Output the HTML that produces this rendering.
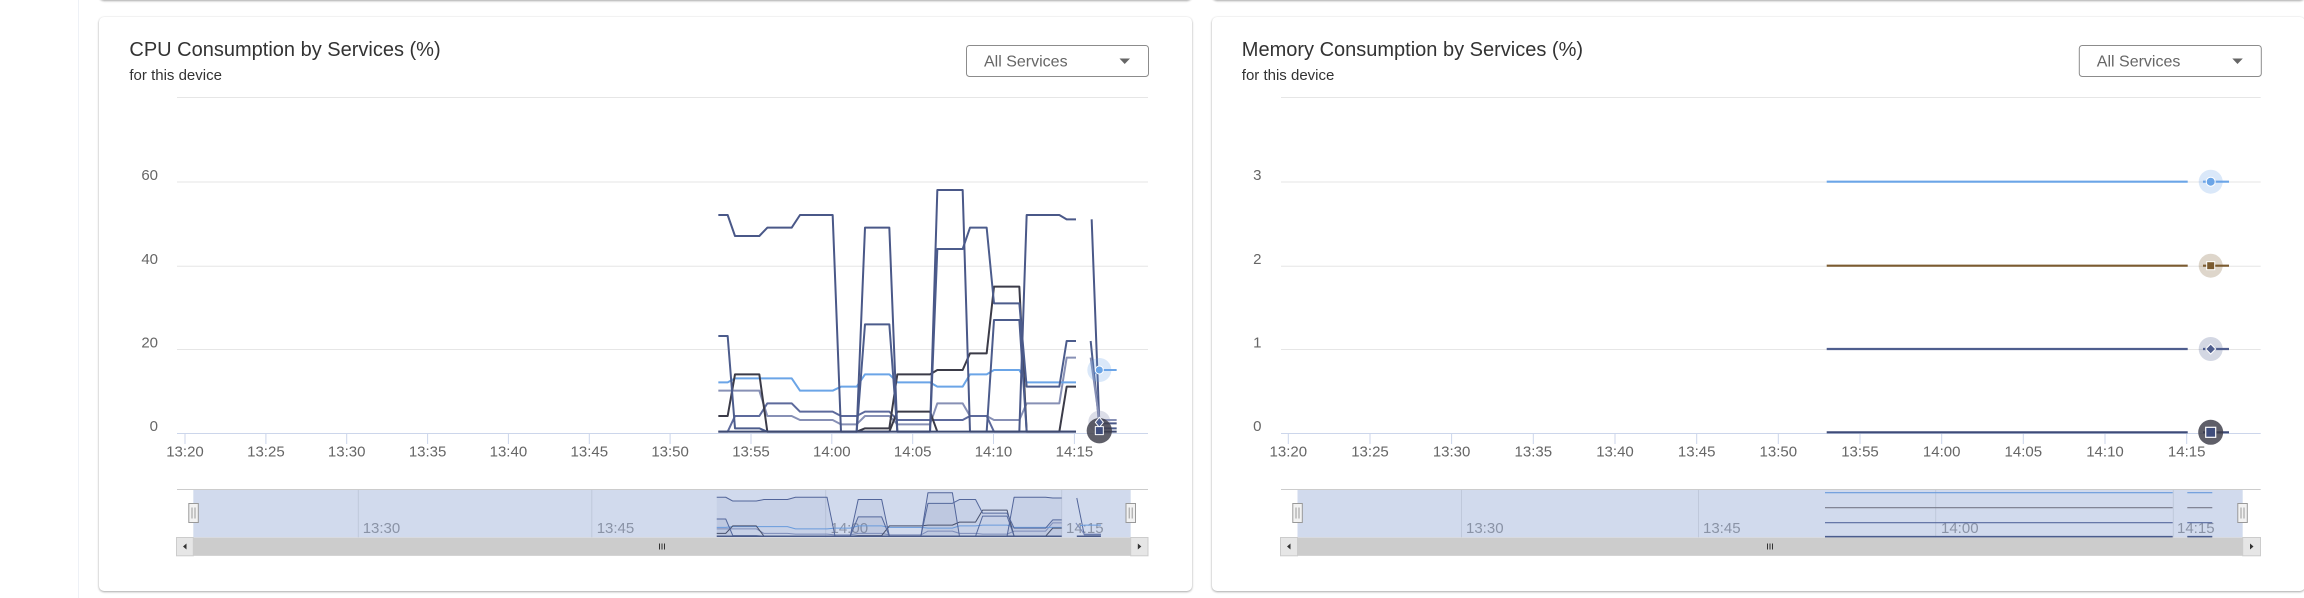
<!DOCTYPE html>
<html><head><meta charset="utf-8">
<style>
html,body{margin:0;padding:0;background:#fff;width:2304px;height:598px;overflow:hidden;font-family:"Liberation Sans",sans-serif;}
body{position:relative;}
.vline{position:absolute;left:78px;top:0;width:1px;height:598px;background:#eef1f6;}
.card{position:absolute;background:#fff;border-radius:5px;box-shadow:0 1px 2px rgba(0,0,0,0.32),0 0 2px rgba(0,0,0,0.07);}
svg{position:absolute;left:0;top:0;}
</style></head><body>
<div class="vline"></div>
<div class="card" style="left:99px;top:-60px;width:1093px;height:60px"></div>
<div class="card" style="left:1211.5px;top:-60px;width:1093px;height:60px"></div>
<div class="card" style="left:99px;top:17px;width:1093px;height:574px"></div>
<div class="card" style="left:1211.5px;top:17px;width:1093px;height:574px"></div>

<svg width="2304" height="598" viewBox="0 0 2304 598" xmlns="http://www.w3.org/2000/svg" font-family="Liberation Sans, sans-serif">

<!-- ================= LEFT CHART ================= -->
<text x="129.4" y="56" font-size="20" fill="#333">CPU Consumption by Services (%)</text>
<text x="129.4" y="80" font-size="15" fill="#333">for this device</text>
<rect x="966.5" y="45.5" width="182" height="31" rx="3" fill="#fff" stroke="#8c8c8c"/>
<text x="984" y="66.5" font-size="16" fill="#666">All Services</text>
<polygon points="1119.5,58.5 1130,58.5 1124.7,64" fill="#666"/>

<g stroke="#e6e6e6" stroke-width="1">
<line x1="177" y1="97.5" x2="1148" y2="97.5"/>
<line x1="177" y1="182" x2="1148" y2="182"/>
<line x1="177" y1="266.3" x2="1148" y2="266.3"/>
<line x1="177" y1="349.5" x2="1148" y2="349.5"/>
</g>
<line x1="177" y1="433.5" x2="1148" y2="433.5" stroke="#ccd6eb"/>
<g stroke="#ccd6eb">
<line x1="185" y1="433.5" x2="185" y2="444"/>
<line x1="265.9" y1="433.5" x2="265.9" y2="444"/>
<line x1="346.7" y1="433.5" x2="346.7" y2="444"/>
<line x1="427.6" y1="433.5" x2="427.6" y2="444"/>
<line x1="508.4" y1="433.5" x2="508.4" y2="444"/>
<line x1="589.3" y1="433.5" x2="589.3" y2="444"/>
<line x1="670.1" y1="433.5" x2="670.1" y2="444"/>
<line x1="751" y1="433.5" x2="751" y2="444"/>
<line x1="831.8" y1="433.5" x2="831.8" y2="444"/>
<line x1="912.7" y1="433.5" x2="912.7" y2="444"/>
<line x1="993.5" y1="433.5" x2="993.5" y2="444"/>
<line x1="1074.4" y1="433.5" x2="1074.4" y2="444"/>
</g>
<g font-size="15" fill="#666" text-anchor="middle">
<text x="185" y="456.5">13:20</text>
<text x="265.9" y="456.5">13:25</text>
<text x="346.7" y="456.5">13:30</text>
<text x="427.6" y="456.5">13:35</text>
<text x="508.4" y="456.5">13:40</text>
<text x="589.3" y="456.5">13:45</text>
<text x="670.1" y="456.5">13:50</text>
<text x="751" y="456.5">13:55</text>
<text x="831.8" y="456.5">14:00</text>
<text x="912.7" y="456.5">14:05</text>
<text x="993.5" y="456.5">14:10</text>
<text x="1074.4" y="456.5">14:15</text>
</g>
<g font-size="15" fill="#666" text-anchor="end">
<text x="158" y="180">60</text>
<text x="158" y="264">40</text>
<text x="158" y="347.5">20</text>
<text x="158" y="431">0</text>
</g>

<!-- main series -->
<g transform="matrix(0.33333,0,0,0.33333,680,160)" fill="none" stroke-linejoin="round">
<polyline vector-effect="non-scaling-stroke" stroke-width="2" stroke="#8790b5" points="115,692 238,692 262,768 335,768 360,780 458,780 483,793 530,793 555,768 628,768 652,793 750,793 772,730 848,730 870,768 920,768 942,780 1018,780 1040,730 1138,730 1160,593 1188,593"/>
<polyline vector-effect="non-scaling-stroke" stroke-width="2" stroke="#5d6a9c" points="115,815 143,815 165,768 238,768 262,730 335,730 360,755 458,755 483,768 530,768 555,755 628,755 652,780 750,780 772,780 848,780 870,768 920,768 942,815 1188,815"/>
<polyline vector-effect="non-scaling-stroke" stroke-width="2" stroke="#3b3b48" points="530,815 628,815 652,755 750,755 772,815"/>
<polyline vector-effect="non-scaling-stroke" stroke-width="2" stroke="#6ba5e7" points="115,667 143,667 165,655 335,655 360,692 458,692 483,680 530,680 555,643 628,643 652,667 750,667 772,680 848,680 870,643 920,643 942,630 1018,630 1040,667 1188,667"/>
<polyline vector-effect="non-scaling-stroke" stroke-width="2" stroke="#3b3b48" points="115,768 143,768 165,643 238,643 262,815 530,815 555,805 628,805 652,643 750,643 772,630 848,630 870,580 920,580 942,380 1018,380 1040,815 1138,815 1160,680 1188,680"/>
<polyline vector-effect="non-scaling-stroke" stroke-width="2" stroke="#4c5c8c" points="920,815 942,480 1018,480 1040,815"/>
<polyline vector-effect="non-scaling-stroke" stroke-width="2" stroke="#4c5c8c" points="115,528 143,528 165,805 238,805 262,815 530,815 555,493 628,493 652,815 750,815 772,267 848,267 870,203 920,203 942,430 1018,430 1040,680 1138,680 1160,543 1188,543"/>
<polyline vector-effect="non-scaling-stroke" stroke-width="2" stroke="#4a5888" points="115,165 143,165 165,228 238,228 262,203 335,203 360,165 458,165 483,815 530,815 555,203 628,203 652,815 750,815 772,90 848,90 870,815 1018,815 1040,165 1138,165 1160,178 1188,178"/>
<polyline vector-effect="non-scaling-stroke" stroke-width="2" stroke="#3e4a72" points="115,815 1188,815"/>
<!-- after gap -->
<polyline vector-effect="non-scaling-stroke" stroke-width="2" stroke="#4a5888" points="1235,178 1258,790 1310,790"/>
<polyline vector-effect="non-scaling-stroke" stroke-width="2" stroke="#4c5c8c" points="1232,543 1258,795"/>
<polyline vector-effect="non-scaling-stroke" stroke-width="2" stroke="#8790b5" points="1232,593 1258,780 1310,780"/>
<polyline vector-effect="non-scaling-stroke" stroke-width="2" stroke="#6ba5e7" points="1245,640 1258,630 1310,630"/>
<polyline vector-effect="non-scaling-stroke" stroke-width="2" stroke="#4c5c8c" points="1258,805 1310,805"/>
<polyline vector-effect="non-scaling-stroke" stroke-width="2" stroke="#3e4a72" points="1258,815 1310,815"/>
<!-- markers -->
<circle cx="1258" cy="630" r="36" fill="rgba(107,165,231,0.25)"/>
<circle cx="1258" cy="630" r="12" fill="#6ba5e7" stroke="#fff" stroke-width="3"/>
<circle cx="1258" cy="785" r="33" fill="rgba(140,146,180,0.3)"/>
<circle cx="1258" cy="812" r="38" fill="rgba(60,60,72,0.82)"/>
<polygon points="1258,772 1270,787 1258,802 1246,787" fill="#4c5c8c" stroke="#fff" stroke-width="3"/>
<rect x="1246" y="800" width="24" height="24" fill="#3f4d7c" stroke="#fff" stroke-width="3"/>
</g>

<!-- navigator -->
<line x1="358.3" y1="489.5" x2="358.3" y2="537.3" stroke="#e6e6e6"/>
<line x1="591.8" y1="489.5" x2="591.8" y2="537.3" stroke="#e6e6e6"/>
<line x1="825.7" y1="489.5" x2="825.7" y2="537.3" stroke="#e6e6e6"/>
<line x1="1061.7" y1="489.5" x2="1061.7" y2="537.3" stroke="#e6e6e6"/>
<g font-size="15" fill="#9a9a9a">
<text x="362.7" y="533">13:30</text>
<text x="596.7" y="533">13:45</text>
<text x="830.5" y="533">14:00</text>
<text x="1066" y="533">14:15</text>
</g>
<g transform="matrix(0.3215,0,0,0.05993,679.76,487.36)" fill="none" stroke-linejoin="round">
<polygon stroke="none" fill="rgba(74,88,136,0.08)" points="115,165 143,165 165,228 238,228 262,203 335,203 360,165 458,165 483,815 530,815 555,203 628,203 652,815 750,815 772,90 848,90 870,815 1018,815 1040,165 1138,165 1160,178 1188,178 1188,815 115,815"/>
<polygon stroke="none" fill="rgba(74,88,136,0.08)" points="115,528 143,528 165,805 238,805 262,815 530,815 555,493 628,493 652,815 750,815 772,267 848,267 870,203 920,203 942,430 1018,430 1040,680 1138,680 1160,543 1188,543 1188,815 115,815"/>
<polyline vector-effect="non-scaling-stroke" stroke-width="1" stroke="#8790b5" points="115,692 238,692 262,768 335,768 360,780 458,780 483,793 530,793 555,768 628,768 652,793 750,793 772,730 848,730 870,768 920,768 942,780 1018,780 1040,730 1138,730 1160,593 1188,593"/>
<polyline vector-effect="non-scaling-stroke" stroke-width="1" stroke="#6ba5e7" points="115,667 143,667 165,655 335,655 360,692 458,692 483,680 530,680 555,643 628,643 652,667 750,667 772,680 848,680 870,643 920,643 942,630 1018,630 1040,667 1188,667"/>
<polyline vector-effect="non-scaling-stroke" stroke-width="1" stroke="#3b3b48" points="115,768 143,768 165,643 238,643 262,815 530,815 555,805 628,805 652,643 750,643 772,630 848,630 870,580 920,580 942,380 1018,380 1040,815 1138,815 1160,680 1188,680"/>
<polyline vector-effect="non-scaling-stroke" stroke-width="1" stroke="#4c5c8c" points="920,815 942,480 1018,480 1040,815"/>
<polyline vector-effect="non-scaling-stroke" stroke-width="1" stroke="#4c5c8c" points="115,528 143,528 165,805 238,805 262,815 530,815 555,493 628,493 652,815 750,815 772,267 848,267 870,203 920,203 942,430 1018,430 1040,680 1138,680 1160,543 1188,543"/>
<polyline vector-effect="non-scaling-stroke" stroke-width="1" stroke="#4a5888" points="115,165 143,165 165,228 238,228 262,203 335,203 360,165 458,165 483,815 530,815 555,203 628,203 652,815 750,815 772,90 848,90 870,815 1018,815 1040,165 1138,165 1160,178 1188,178"/>
<polyline vector-effect="non-scaling-stroke" stroke-width="1.5" stroke="#3e4a72" points="115,815 1188,815"/>
<polyline vector-effect="non-scaling-stroke" stroke-width="1" stroke="#4a5888" points="1235,178 1258,790 1310,790"/>
<polyline vector-effect="non-scaling-stroke" stroke-width="1" stroke="#8790b5" points="1232,593 1258,780 1310,780"/>
<polyline vector-effect="non-scaling-stroke" stroke-width="1" stroke="#6ba5e7" points="1245,640 1258,630 1310,630"/>
<polyline vector-effect="non-scaling-stroke" stroke-width="1.5" stroke="#3e4a72" points="1235,815 1310,815"/>
</g>
<rect x="193.3" y="489.5" width="937.4" height="47.8" fill="rgba(102,133,194,0.3)"/>
<line x1="177" y1="489.5" x2="1148" y2="489.5" stroke="#cccccc"/>
<!-- handles -->
<rect x="188.8" y="503.5" width="9.5" height="19" fill="#f2f2f2" stroke="#999"/>
<line x1="192" y1="507.5" x2="192" y2="518.5" stroke="#999"/>
<line x1="195" y1="507.5" x2="195" y2="518.5" stroke="#999"/>
<rect x="1126" y="503.5" width="9.5" height="19" fill="#f2f2f2" stroke="#999"/>
<line x1="1129.2" y1="507.5" x2="1129.2" y2="518.5" stroke="#999"/>
<line x1="1132.2" y1="507.5" x2="1132.2" y2="518.5" stroke="#999"/>
<!-- scrollbar -->
<rect x="177" y="537.5" width="971" height="18.3" fill="#f2f2f2"/>
<rect x="193.3" y="537.5" width="937.4" height="18.3" fill="#cccccc"/>
<rect x="176.5" y="537.5" width="16.8" height="18.3" fill="#e6e6e6" stroke="#cccccc"/>
<polygon points="186.5,543.5 186.5,549.5 183,546.5" fill="#333"/>
<rect x="1130.7" y="537.5" width="17.3" height="18.3" fill="#e6e6e6" stroke="#cccccc"/>
<polygon points="1137.8,543.5 1137.8,549.5 1141.3,546.5" fill="#333"/>
<g stroke="#333" stroke-width="1">
<line x1="659.5" y1="543.5" x2="659.5" y2="549.5"/>
<line x1="662" y1="543.5" x2="662" y2="549.5"/>
<line x1="664.5" y1="543.5" x2="664.5" y2="549.5"/>
</g>

<!-- ================= RIGHT CHART ================= -->
<text x="1241.8" y="56" font-size="20" fill="#333">Memory Consumption by Services (%)</text>
<text x="1241.8" y="80" font-size="15" fill="#333">for this device</text>
<rect x="2079.3" y="45.5" width="182" height="31" rx="3" fill="#fff" stroke="#8c8c8c"/>
<text x="2096.8" y="66.5" font-size="16" fill="#666">All Services</text>
<polygon points="2232.3,58.5 2242.8,58.5 2237.5,64" fill="#666"/>

<g stroke="#e6e6e6" stroke-width="1">
<line x1="1281" y1="97.5" x2="2260.7" y2="97.5"/>
<line x1="1281" y1="182" x2="2260.7" y2="182"/>
<line x1="1281" y1="266.3" x2="2260.7" y2="266.3"/>
<line x1="1281" y1="349.5" x2="2260.7" y2="349.5"/>
</g>
<line x1="1281" y1="433.5" x2="2260.7" y2="433.5" stroke="#ccd6eb"/>
<g stroke="#ccd6eb">
<line x1="1288.3" y1="433.5" x2="1288.3" y2="444"/>
<line x1="1370" y1="433.5" x2="1370" y2="444"/>
<line x1="1451.6" y1="433.5" x2="1451.6" y2="444"/>
<line x1="1533.3" y1="433.5" x2="1533.3" y2="444"/>
<line x1="1615" y1="433.5" x2="1615" y2="444"/>
<line x1="1696.7" y1="433.5" x2="1696.7" y2="444"/>
<line x1="1778.3" y1="433.5" x2="1778.3" y2="444"/>
<line x1="1860" y1="433.5" x2="1860" y2="444"/>
<line x1="1941.7" y1="433.5" x2="1941.7" y2="444"/>
<line x1="2023.3" y1="433.5" x2="2023.3" y2="444"/>
<line x1="2105" y1="433.5" x2="2105" y2="444"/>
<line x1="2186.7" y1="433.5" x2="2186.7" y2="444"/>
</g>
<g font-size="15" fill="#666" text-anchor="middle">
<text x="1288.3" y="456.5">13:20</text>
<text x="1370" y="456.5">13:25</text>
<text x="1451.6" y="456.5">13:30</text>
<text x="1533.3" y="456.5">13:35</text>
<text x="1615" y="456.5">13:40</text>
<text x="1696.7" y="456.5">13:45</text>
<text x="1778.3" y="456.5">13:50</text>
<text x="1860" y="456.5">13:55</text>
<text x="1941.7" y="456.5">14:00</text>
<text x="2023.3" y="456.5">14:05</text>
<text x="2105" y="456.5">14:10</text>
<text x="2186.7" y="456.5">14:15</text>
</g>
<g font-size="15" fill="#666" text-anchor="end">
<text x="1261.5" y="180">3</text>
<text x="1261.5" y="264">2</text>
<text x="1261.5" y="347.5">1</text>
<text x="1261.5" y="431">0</text>
</g>

<g stroke-width="2.2" fill="none">
<line x1="1826.7" y1="181.7" x2="2187.7" y2="181.7" stroke="#6ba5e7"/>
<line x1="1826.7" y1="265.7" x2="2187.7" y2="265.7" stroke="#7b5b30"/>
<line x1="1826.7" y1="349" x2="2187.7" y2="349" stroke="#4f5e8e"/>
<line x1="1826.7" y1="432.3" x2="2187.7" y2="432.3" stroke="#3e4b78"/>
<line x1="2203" y1="181.7" x2="2229" y2="181.7" stroke="#6ba5e7"/>
<line x1="2203" y1="265.7" x2="2229" y2="265.7" stroke="#7b5b30"/>
<line x1="2203" y1="349" x2="2229" y2="349" stroke="#4f5e8e"/>
<line x1="2203" y1="432.3" x2="2229" y2="432.3" stroke="#3e4b78"/>
</g>
<circle cx="2210.7" cy="181.7" r="12" fill="rgba(107,165,231,0.25)"/>
<circle cx="2210.7" cy="181.7" r="4.5" fill="#6ba5e7" stroke="#fff" stroke-width="1"/>
<circle cx="2210.7" cy="265.7" r="12" fill="rgba(123,91,48,0.25)"/>
<rect x="2206.7" y="261.7" width="8" height="8" fill="#7b5b30" stroke="#fff" stroke-width="1"/>
<circle cx="2210.7" cy="349" r="12" fill="rgba(79,94,142,0.25)"/>
<polygon points="2210.7,344 2215.7,349 2210.7,354 2205.7,349" fill="#4f5e8e" stroke="#fff" stroke-width="1"/>
<circle cx="2210.7" cy="432.3" r="12.5" fill="rgba(60,60,72,0.82)"/>
<rect x="2205.7" y="427.3" width="10" height="10" fill="#3f4d7c" stroke="#fff" stroke-width="1.2"/>

<!-- right navigator -->
<line x1="1461.5" y1="489.5" x2="1461.5" y2="537.3" stroke="#e6e6e6"/>
<line x1="1698.5" y1="489.5" x2="1698.5" y2="537.3" stroke="#e6e6e6"/>
<line x1="1935.7" y1="489.5" x2="1935.7" y2="537.3" stroke="#e6e6e6"/>
<line x1="2173.3" y1="489.5" x2="2173.3" y2="537.3" stroke="#e6e6e6"/>
<g font-size="15" fill="#9a9a9a">
<text x="1466" y="533">13:30</text>
<text x="1703" y="533">13:45</text>
<text x="1941" y="533">14:00</text>
<text x="2177" y="533">14:15</text>
</g>
<g stroke-width="1.2" fill="none">
<polyline stroke="#6ba5e7" points="1825,492.7 2172.7,492.7"/>
<polyline stroke="#7f7470" points="1825,507.7 2172.7,507.7"/>
<polyline stroke="#4f5e8e" points="1825,522.7 2172.7,522.7"/>
<polyline stroke="#3e4b78" stroke-width="1.5" points="1825,536.6 2172.7,536.6"/>
<polyline stroke="#6ba5e7" points="2187.3,492.7 2212.3,492.7"/>
<polyline stroke="#7f7470" points="2187.3,507.7 2212.3,507.7"/>
<polyline stroke="#4f5e8e" points="2187.3,522.7 2212.3,522.7"/>
<polyline stroke="#3e4b78" stroke-width="1.5" points="2187.3,536.6 2212.3,536.6"/>
</g>
<rect x="1297.5" y="489.5" width="945.2" height="47.8" fill="rgba(102,133,194,0.3)"/>
<line x1="1281" y1="489.5" x2="2260.7" y2="489.5" stroke="#cccccc"/>
<rect x="1292.8" y="503.5" width="9.5" height="19" fill="#f2f2f2" stroke="#999"/>
<line x1="1296" y1="507.5" x2="1296" y2="518.5" stroke="#999"/>
<line x1="1299" y1="507.5" x2="1299" y2="518.5" stroke="#999"/>
<rect x="2237.8" y="503.5" width="9.5" height="19" fill="#f2f2f2" stroke="#999"/>
<line x1="2241" y1="507.5" x2="2241" y2="518.5" stroke="#999"/>
<line x1="2244" y1="507.5" x2="2244" y2="518.5" stroke="#999"/>
<rect x="1281" y="537.5" width="979.7" height="18.3" fill="#f2f2f2"/>
<rect x="1297.5" y="537.5" width="945.2" height="18.3" fill="#cccccc"/>
<rect x="1280.5" y="537.5" width="17" height="18.3" fill="#e6e6e6" stroke="#cccccc"/>
<polygon points="1290.5,543.5 1290.5,549.5 1287,546.5" fill="#333"/>
<rect x="2242.7" y="537.5" width="17.8" height="18.3" fill="#e6e6e6" stroke="#cccccc"/>
<polygon points="2250,543.5 2250,549.5 2253.5,546.5" fill="#333"/>
<g stroke="#333" stroke-width="1">
<line x1="1767.5" y1="543.5" x2="1767.5" y2="549.5"/>
<line x1="1770" y1="543.5" x2="1770" y2="549.5"/>
<line x1="1772.5" y1="543.5" x2="1772.5" y2="549.5"/>
</g>
</svg>
</body></html>
